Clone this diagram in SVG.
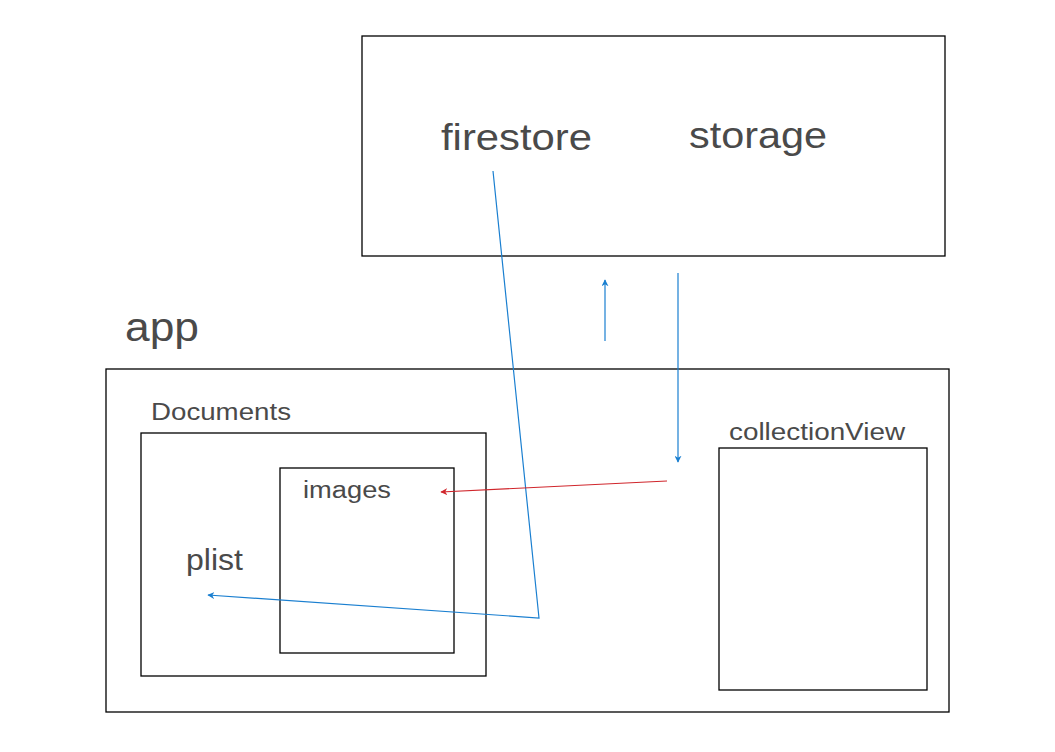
<svg xmlns="http://www.w3.org/2000/svg" width="1055" height="752" viewBox="0 0 1055 752">
<defs>
<style>
.box{fill:none;stroke:#000;stroke-width:1.3}
.t{font-family:"Liberation Sans",Arial,sans-serif;fill:#4a4a4a}
.blue{fill:none;stroke:#1a7fd0;stroke-width:1.2}
.red{fill:none;stroke:#d0262c;stroke-width:1.2}
</style>
<marker id="ab" viewBox="0 0 10 10" refX="9" refY="5" markerWidth="7" markerHeight="7" orient="auto" markerUnits="userSpaceOnUse"><path d="M0,0 L10,5 L0,10 L3,5 Z" fill="#1a7fd0"/></marker>
<marker id="ar" viewBox="0 0 10 10" refX="9" refY="5" markerWidth="7" markerHeight="7" orient="auto" markerUnits="userSpaceOnUse"><path d="M0,0 L10,5 L0,10 L3,5 Z" fill="#d0262c"/></marker>
</defs>
<rect width="1055" height="752" fill="#fff"/>
<g id="server">
<rect class="box" x="362" y="36" width="583" height="220"/>
<text class="t" x="441" y="150" font-size="36" textLength="151" lengthAdjust="spacingAndGlyphs">firestore</text>
<text class="t" x="689" y="148" font-size="36" textLength="138" lengthAdjust="spacingAndGlyphs">storage</text>
</g>
<g id="app">
<text class="t" x="125" y="341" font-size="40" textLength="74" lengthAdjust="spacingAndGlyphs">app</text>
<rect class="box" x="106" y="369" width="843" height="343"/>
</g>
<g id="documents">
<text class="t" x="151" y="420" font-size="23" textLength="140" lengthAdjust="spacingAndGlyphs">Documents</text>
<rect class="box" x="141" y="433" width="345" height="243"/>
</g>
<g id="images">
<rect class="box" x="280" y="468" width="174" height="185"/>
<text class="t" x="303" y="498" font-size="23" textLength="88" lengthAdjust="spacingAndGlyphs">images</text>
</g>
<g id="plist">
<text class="t" x="186" y="570" font-size="30" textLength="57" lengthAdjust="spacingAndGlyphs">plist</text>
</g>
<g id="collectionView">
<text class="t" x="729" y="440" font-size="23" textLength="176" lengthAdjust="spacingAndGlyphs">collectionView</text>
<rect class="box" x="719" y="448" width="208" height="242"/>
</g>
<g id="connectors">
<polyline class="blue" points="493,171 539,618 208,595" marker-end="url(#ab)"/>
<line class="blue" x1="605" y1="341" x2="605" y2="280" marker-end="url(#ab)"/>
<line class="blue" x1="678" y1="273" x2="678" y2="462" marker-end="url(#ab)"/>
<line class="red" x1="667" y1="481" x2="441" y2="492" marker-end="url(#ar)"/>
</g>
</svg>
